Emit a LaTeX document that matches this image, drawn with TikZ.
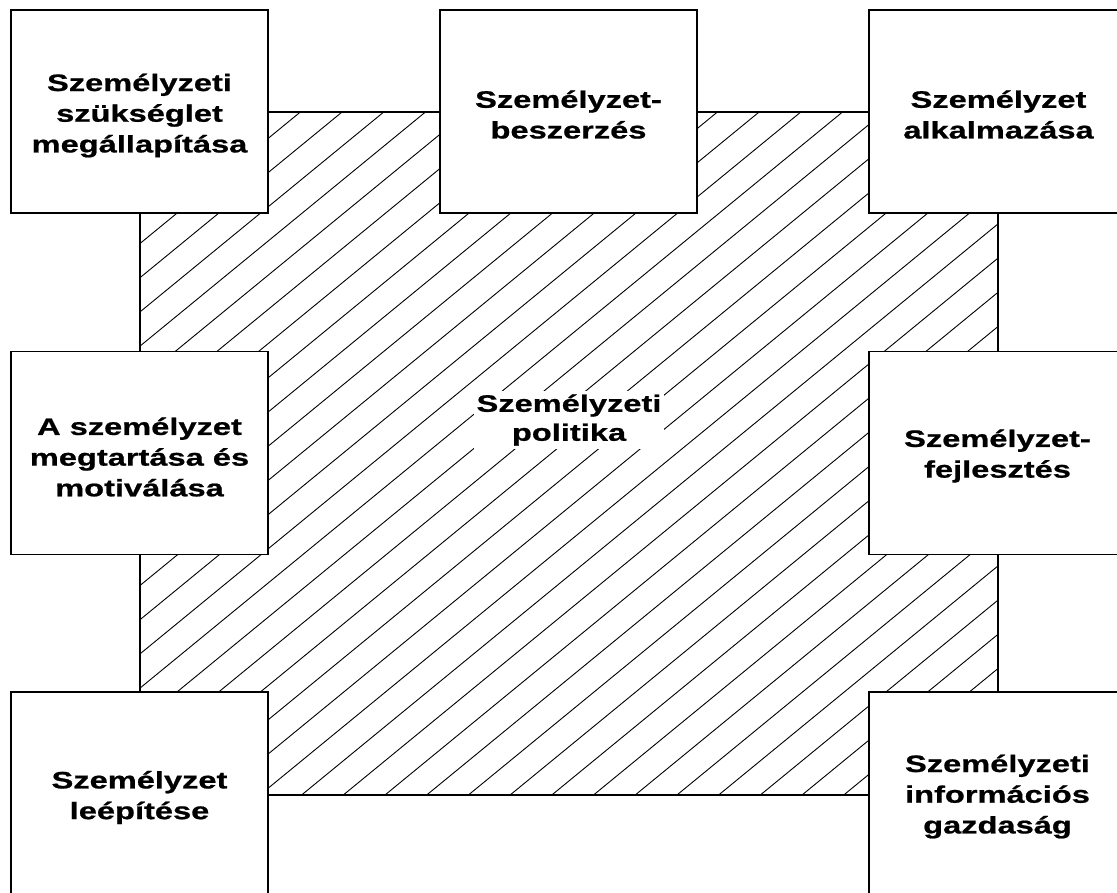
\documentclass[tikz,border=0pt]{standalone}
\usepackage{fontspec}
\newfontfamily\lblfont[FakeStretch=1.37,FakeBold=0.8]{Liberation Sans}
\begin{document}
\begin{tikzpicture}[x=1pt,y=-1pt,
  boxtext/.style={font=\lblfont\bfseries\fontsize{23.8}{30.7}\selectfont, align=center, inner sep=0pt},
  stage/.style={draw, line width=1.6pt, fill=white,
    minimum width=257pt, minimum height=203pt, inner sep=0pt},
  hatch/.style={line width=0.9pt},
  frame/.style={line width=1.6pt}]
\useasboundingbox (0,0) rectangle (1117,892);
\clip (0,0) rectangle (1117,892);

% corners of the policy field
\coordinate (fa) at (140,112);
\coordinate (fb) at (998,795);

% diagonal hatching of the policy field
\begin{scope}
  \clip (fa) rectangle (fb);
  \foreach \i in {0,...,42} {
    \pgfmathsetmacro\c{221.5+34.2*\i}
    \draw[hatch] (140,\c-114.8) -- (998,\c-818.4);
  }
\end{scope}
\draw[frame] (fa) rectangle (fb);

% central label
\node[boxtext, fill=white, inner sep=3pt, font=\lblfont\bfseries\fontsize{23.8}{29}\selectfont]
  (pol) at (569,420) {Személyzeti\\politika};

% the seven activity boxes
\node[stage] (tl) at (139.5,111.5) {};
\node[stage] (tm) at (568.5,111.5) {};
\node[stage] (tr) at (997.5,111.5) {};
\node[stage] (ml) at (139.5,453) {};
\node[stage] (mr) at (997.5,453) {};
\node[stage] (bl) at (139.5,793.5) {};
\node[stage] (br) at (997.5,793.5) {};

% their labels
\node[boxtext] (tlt) at ([yshift=-4pt]tl.center) {Személyzeti\\szükséglet\\megállapítása};
\node[boxtext] (tmt) at ([yshift=-3pt]tm.center) {Személyzet-\\beszerzés};
\node[boxtext] (trt) at ([yshift=-3pt,xshift=1pt]tr.center) {Személyzet\\alkalmazása};
\node[boxtext] (mlt) at ([yshift=-4pt]ml.center) {A személyzet\\megtartása és\\motiválása};
\node[boxtext] (mrt) at ([yshift=-3pt]mr.center) {Személyzet-\\fejlesztés};
\node[boxtext] (blt) at ([yshift=-4pt]bl.center) {Személyzet\\leépítése};
\node[boxtext] (brt) at ([yshift=-3pt]br.center) {Személyzeti\\információs\\gazdaság};
\end{tikzpicture}
\end{document}
